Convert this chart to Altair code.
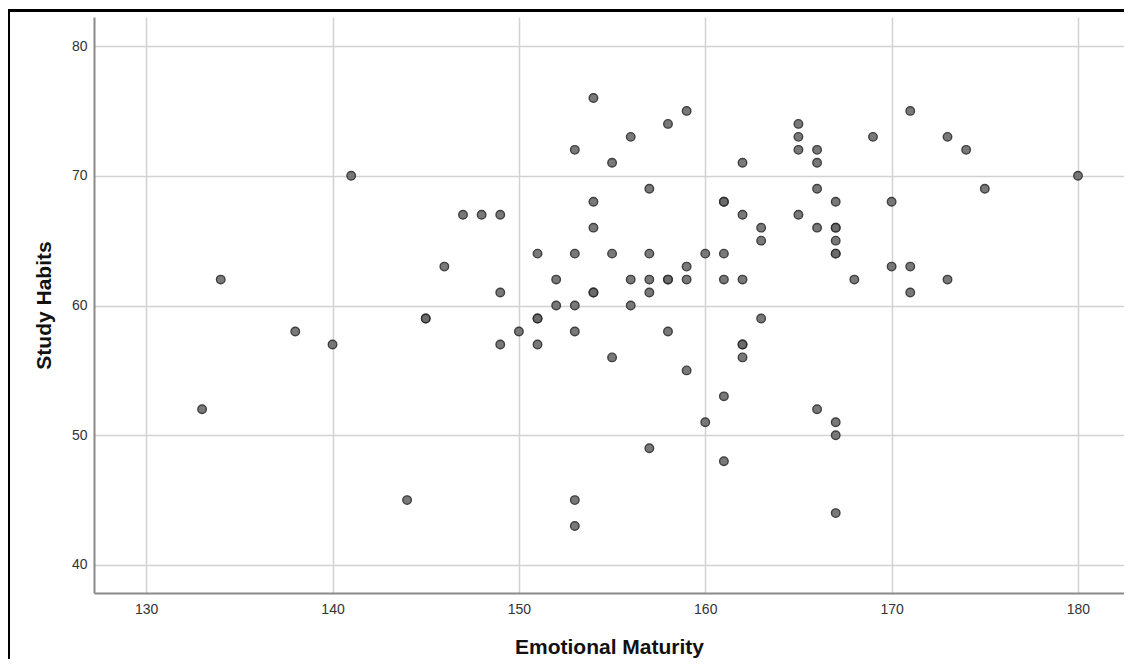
import altair as alt
import pandas as pd

# Emotional Maturity (x) and Study Habits (y)
emotional_maturity = [
    133, 134, 138, 140, 141, 144, 145, 145, 146,
    147, 148, 149, 149, 149, 150,
    151, 151, 151, 151, 152, 152,
    153, 153, 153, 153, 153, 153,
    154, 154, 154, 154, 154,
    155, 155, 155, 156, 156, 156,
    157, 157, 157, 157, 157,
    158, 158, 158, 158, 159, 159, 159, 159,
    160, 160,
    161, 161, 161, 161, 161, 161,
    162, 162, 162, 162, 162, 162,
    163, 163, 163,
    165, 165, 165, 165,
    166, 166, 166, 166, 166,
    167, 167, 167, 167, 167, 167, 167, 167, 167,
    168, 169, 170, 170, 171, 171, 171, 173, 173, 174, 175, 180,
]
study_habits = [
    52, 62, 58, 57, 70, 45, 59, 59, 63,
    67, 67, 67, 61, 57, 58,
    64, 59, 59, 57, 62, 60,
    72, 64, 60, 58, 45, 43,
    76, 68, 66, 61, 61,
    71, 64, 56, 73, 62, 60,
    69, 64, 62, 61, 49,
    74, 62, 62, 58, 75, 63, 62, 55,
    64, 51,
    68, 68, 64, 62, 53, 48,
    71, 67, 62, 57, 57, 56,
    66, 65, 59,
    74, 73, 72, 67,
    72, 71, 69, 66, 52,
    68, 66, 66, 65, 64, 64, 51, 50, 44,
    62, 73, 68, 63, 75, 63, 61, 73, 62, 72, 69, 70,
]
x_ticks = [130, 140, 150, 160, 170, 180]
y_ticks = [40, 50, 60, 70, 80]

df = pd.DataFrame({"Emotional Maturity": emotional_maturity,
                   "Study Habits": study_habits})

W, H = 1030, 576
PAD_L, PAD_T, PAD_B = 86, 9, 66
FONT = "Liberation Sans"

points = alt.Chart(df).mark_circle(
    size=72, color="#6b6b6b", stroke="#2b2b2b", strokeWidth=1.4,
    opacity=0.9
).encode(
    x=alt.X("Emotional Maturity:Q",
            scale=alt.Scale(domain=[127.2, 182.47], nice=False, zero=False),
            axis=alt.Axis(values=x_ticks, title="Emotional Maturity",
                          grid=True, ticks=False, labelPadding=9,
                          titlePadding=20)),
    y=alt.Y("Study Habits:Q",
            scale=alt.Scale(domain=[37.84, 82.24], nice=False, zero=False),
            axis=alt.Axis(values=y_ticks, title="Study Habits",
                          grid=True, ticks=False, labelPadding=7,
                          titlePadding=17)),
)

# outer frame of the exported figure (right and bottom edges fall outside)
frame = alt.Chart(df).mark_rect(
    fill=None, stroke="#000000", strokeWidth=1.5, clip=False
).encode(
    x=alt.value(-PAD_L + 0.75), x2=alt.value(W + 20),
    y=alt.value(-PAD_T + 2.5), y2=alt.value(H + PAD_B + 20),
)

chart = alt.layer(frame, points).properties(
    width=W, height=H,
    padding={"left": PAD_L, "top": PAD_T, "right": 0, "bottom": PAD_B},
    autosize=alt.AutoSizeParams(type="none"),
).configure_view(
    stroke=None
).configure_axis(
    labelFont=FONT, labelFontSize=14, labelColor="#333333",
    titleFont=FONT, titleFontSize=21, titleFontWeight="bold",
    titleColor="#111111",
    gridColor="#d2d2d2", gridWidth=1.5,
    domainColor="#8a8a8a", domainWidth=2,
)

chart.save("out.html", embed_options={"renderer": "svg", "actions": False})
